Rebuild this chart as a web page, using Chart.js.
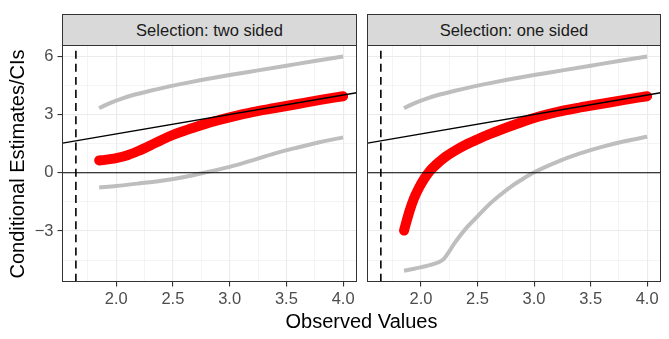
<!DOCTYPE html>
<html>
<head>
<meta charset="utf-8">
<script src="https://cdn.jsdelivr.net/npm/chart.js@4.4.1/dist/chart.umd.min.js"></script>
<style>
  body { margin: 0; background: #fff; overflow: hidden; }
  #wrap { position: relative; width: 669px; height: 339px; font-family: "Liberation Sans", Arial, sans-serif; }
  canvas { position: absolute; top: 0; }
  .strip {
    position: absolute; top: 14px; height: 32px; box-sizing: border-box;
    background: #D9D9D9; border: 1px solid #333333;
    color: #1A1A1A; font-size: 16.5px; line-height: 30px; text-align: center;
  }
  #ytitle {
    position: absolute; left: -133px; top: 151.5px; width: 300px; height: 24px;
    line-height: 24px; text-align: center; font-size: 20px; color: #000;
    transform: rotate(-90deg);
  }
  #xtitle {
    position: absolute; left: 62px; width: 599px; top: 311px; height: 20px;
    line-height: 20px; text-align: center; font-size: 20px; color: #000;
  }
</style>
</head>
<body>
<div id="wrap">
  <canvas id="leftPanel" width="362" height="339" style="left:0;width:362px;height:339px"></canvas>
  <canvas id="rightPanel" width="307" height="339" style="left:362px;width:307px;height:339px"></canvas>
  <div class="strip" id="stripLeft" style="left:62px;width:295px"></div>
  <div class="strip" id="stripRight" style="left:367px;width:294px"></div>
  <div id="ytitle">Conditional Estimates/CIs</div>
  <div id="xtitle">Observed Values</div>
</div>
<script>
// facet labels
const panelTitles = ['Selection: two sided', 'Selection: one sided'];

// axis limits and tick positions
const xMin = 1.527, xMax = 4.118;
const yMin = -5.6, yMax = 6.55;
const xGrid = [1.75, 2.0, 2.25, 2.5, 2.75, 3.0, 3.25, 3.5, 3.75, 4.0];
const yGrid = [-4.5, -3, -1.5, 0, 1.5, 3, 4.5, 6];

// truncation point (dashed) and reference line y = x
const cutoff = 1.645;
const refSlope = 1, refIntercept = 0;

// upper CI bound, same in both panels
const upperX = [1.85, 1.9, 1.95, 2.05, 2.15, 2.3, 2.45, 2.6, 2.75, 3.0, 3.25, 3.5, 3.75, 4.0];
const upperY = [3.32, 3.47, 3.6, 3.82, 4.0, 4.22, 4.42, 4.6, 4.77, 5.03, 5.27, 5.51, 5.75, 5.98];

// two sided selection
const twoEstX = [1.85, 1.9, 2.0, 2.1, 2.2, 2.3, 2.4, 2.5, 2.6, 2.7, 2.8, 2.9, 3.0, 3.2, 3.4, 3.6, 3.8, 4.0];
const twoEstY = [0.63, 0.66, 0.75, 0.9, 1.13, 1.4, 1.69, 1.95, 2.16, 2.36, 2.54, 2.7, 2.85, 3.12, 3.33, 3.54, 3.75, 3.94];
const twoLowX = [1.85, 2.0, 2.2, 2.4, 2.6, 2.8, 3.0, 3.2, 3.4, 3.6, 3.8, 4.0];
const twoLowY = [-0.76, -0.68, -0.55, -0.41, -0.22, 0.03, 0.3, 0.64, 1.0, 1.3, 1.58, 1.82];

// one sided selection
const oneEstX = [1.85, 1.87, 1.9, 1.94, 1.98, 2.03, 2.08, 2.14, 2.2, 2.3, 2.4, 2.5, 2.6, 2.7, 2.85, 3.0, 3.2, 3.4, 3.6, 3.8, 4.0];
const oneEstY = [-2.98, -2.55, -1.95, -1.3, -0.8, -0.3, 0.1, 0.45, 0.75, 1.13, 1.45, 1.72, 1.97, 2.2, 2.52, 2.82, 3.12, 3.35, 3.55, 3.75, 3.94];
const oneLowX = [1.85, 1.95, 2.05, 2.15, 2.2, 2.25, 2.3, 2.4, 2.5, 2.6, 2.7, 2.8, 2.9, 3.0, 3.2, 3.4, 3.6, 3.8, 4.0];
const oneLowY = [-5.05, -4.93, -4.8, -4.62, -4.45, -4.05, -3.6, -2.85, -2.25, -1.65, -1.15, -0.7, -0.32, 0.02, 0.55, 0.98, 1.33, 1.62, 1.85];

document.getElementById('stripLeft').textContent = panelTitles[0];
document.getElementById('stripRight').textContent = panelTitles[1];

const pts = (xs, ys) => xs.map((x, i) => ({ x: x, y: ys[i] }));
const isMajorX = v => Math.abs(v * 2 - Math.round(v * 2)) < 1e-6;
const isMajorY = v => Math.abs(v / 3 - Math.round(v / 3)) < 1e-6;
const fontFamily = '"Liberation Sans", Arial, sans-serif';

// dark frame round each panel, drawn last like ggplot's panel.border
const panelBorder = {
  id: 'panelBorder',
  afterDraw(chart) {
    const { ctx, chartArea: a } = chart;
    ctx.save();
    ctx.strokeStyle = '#333333';
    ctx.lineWidth = 1;
    ctx.strokeRect(a.left, a.top, a.right - a.left, a.bottom - a.top);
    ctx.restore();
  }
};

function makePanel(id, estX, estY, lowX, lowY, first) {
  const gray = { borderColor: '#BEBEBE', borderWidth: 4, borderCapStyle: 'butt', order: 2 };
  const black = { borderColor: '#000000', tension: 0, order: 0 };
  return new Chart(document.getElementById(id), {
    type: 'scatter',
    data: {
      datasets: [
        { ...gray, data: pts(upperX, upperY) },
        { ...gray, data: pts(lowX, lowY) },
        {
          data: pts(estX, estY), borderColor: '#FF0000', borderWidth: 10,
          borderCapStyle: 'round', borderJoinStyle: 'round', order: 1
        },
        { ...black, borderWidth: 1.2, data: [{ x: xMin, y: 0 }, { x: xMax, y: 0 }] },
        {
          ...black, borderWidth: 1.3,
          data: [{ x: xMin, y: refSlope * xMin + refIntercept }, { x: xMax, y: refSlope * xMax + refIntercept }]
        },
        { ...black, borderWidth: 1.6, borderDash: [8, 5.1], data: [{ x: cutoff, y: yMin }, { x: cutoff, y: yMax }] }
      ]
    },
    options: {
      responsive: false,
      animation: false,
      devicePixelRatio: 1,
      events: [],
      showLine: true,
      cubicInterpolationMode: 'monotone',
      elements: { point: { radius: 0 } },
      layout: { padding: { left: first ? 0 : 5.5, right: first ? 5.5 : 8.5, top: 45.5, bottom: 0 } },
      plugins: { legend: { display: false }, tooltip: { enabled: false } },
      scales: {
        x: {
          type: 'linear', min: xMin, max: xMax,
          afterBuildTicks: s => { s.ticks = xGrid.map(v => ({ value: v })); },
          afterFit: s => { s.height = 57.5; },
          border: { display: false },
          grid: {
            color: '#EBEBEB',
            lineWidth: c => (c.tick && isMajorX(c.tick.value)) ? 1.1 : 0.55,
            drawTicks: true, tickLength: 5, tickWidth: 1.1,
            tickColor: c => (c.tick && isMajorX(c.tick.value)) ? '#333333' : 'rgba(0,0,0,0)'
          },
          ticks: {
            autoSkip: false, maxRotation: 0, padding: 3, color: '#4D4D4D',
            font: { family: fontFamily, size: 16.5 },
            callback: v => isMajorX(v) ? v.toFixed(1) : ''
          }
        },
        y: {
          type: 'linear', min: yMin, max: yMax,
          afterBuildTicks: s => { s.ticks = yGrid.map(v => ({ value: v })); },
          afterFit: s => { s.width = first ? 62.5 : 0; },
          border: { display: false },
          grid: {
            color: '#EBEBEB',
            lineWidth: c => (c.tick && isMajorY(c.tick.value)) ? 1.1 : 0.55,
            drawTicks: first, tickLength: 5, tickWidth: 1.1,
            tickColor: c => (c.tick && isMajorY(c.tick.value)) ? '#333333' : 'rgba(0,0,0,0)'
          },
          ticks: {
            display: first, autoSkip: false, padding: 4, color: '#4D4D4D',
            font: { family: fontFamily, size: 16.5 },
            callback: v => isMajorY(v) ? (v < 0 ? '\u2212' + Math.abs(v) : String(v)) : ''
          }
        }
      }
    },
    plugins: [panelBorder]
  });
}

makePanel('leftPanel', twoEstX, twoEstY, twoLowX, twoLowY, true);
makePanel('rightPanel', oneEstX, oneEstY, oneLowX, oneLowY, false);
</script>
</body>
</html>
